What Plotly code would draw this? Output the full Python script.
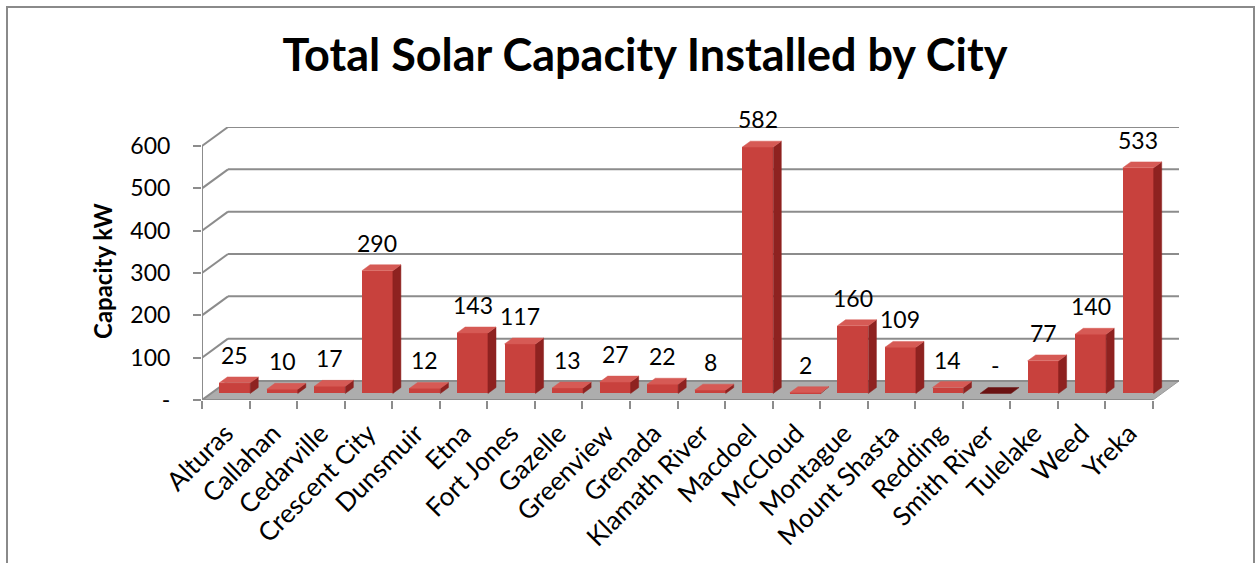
import plotly.graph_objects as go

# Solar capacity (kW) installed in each city
cities = ["Alturas", "Callahan", "Cedarville", "Crescent City", "Dunsmuir", "Etna",
          "Fort Jones", "Gazelle", "Greenview", "Grenada", "Klamath River", "Macdoel",
          "McCloud", "Montague", "Mount Shasta", "Redding", "Smith River", "Tulelake",
          "Weed", "Yreka"]
capacity_kw = [25, 10, 17, 290, 12, 143, 117, 13, 27, 22, 8, 582, 2, 160, 109, 14, 0, 77, 140, 533]
y_ticks = [0, 100, 200, 300, 400, 500, 600]
y_tick_text = ["-", "100", "200", "300", "400", "500", "600"]

TITLE = "Total Solar Capacity Installed by City"
Y_TITLE = "Capacity kW"

FONT = "Lato"
W, H = 1255, 563

# Oblique projection: full chart depth expressed in axis units
DEPTH_X = 0.547   # category units
DEPTH_Y = 44.9    # value units
GAP = 0.175       # gap on each side of a bar (category units)
D0, D1 = 0.345, 0.655  # bar front/back positions as fraction of depth

N = len(cities)
Y_MAX = y_ticks[-1]
X_RANGE = [0, N + DEPTH_X]
Y_RANGE = [0, Y_MAX + DEPTH_Y]

# plot area placement (pixels)
PLOT_L, PLOT_R, PLOT_T, PLOT_B = 202, 1179, 127, 400

FRONT = "#C8413D"
SIDE = "#8E2220"
TOP = "#D65A55"
TOP_FLAT = "#6A1212"
GRID = "#8C8C8C"
FLOOR = "#ADADAD"


def paper_x(px):
    return (px - PLOT_L) / (PLOT_R - PLOT_L)


def paper_y(py):
    return (PLOT_B - py) / (PLOT_B - PLOT_T)


fig = go.Figure()
shapes = []

# floor
shapes.append(dict(type="path", xref="x", yref="y", layer="below",
                   path=f"M 0 0 L {N} 0 L {N + DEPTH_X} {DEPTH_Y} L {DEPTH_X} {DEPTH_Y} Z",
                   fillcolor=FLOOR, line=dict(color="#9A9A9A", width=1)))

# side-wall and back-wall gridlines
for v in y_ticks:
    shapes.append(dict(type="line", xref="x", yref="y", layer="below",
                       x0=0, y0=v, x1=DEPTH_X, y1=v + DEPTH_Y,
                       line=dict(color=GRID, width=2)))
    shapes.append(dict(type="line", xref="x", yref="y", layer="below",
                       x0=DEPTH_X, y0=v + DEPTH_Y, x1=N + DEPTH_X, y1=v + DEPTH_Y,
                       line=dict(color=GRID, width=2)))

# front axis lines
shapes.append(dict(type="line", xref="x", yref="y", x0=0, y0=0, x1=0, y1=Y_MAX,
                   line=dict(color=GRID, width=2)))
shapes.append(dict(type="line", xref="x", yref="y", x0=0, y0=0, x1=N, y1=0,
                   line=dict(color=GRID, width=2)))

# chart frame
shapes.append(dict(type="rect", xref="paper", yref="paper",
                   x0=paper_x(7), x1=paper_x(1254), y0=paper_y(575), y1=paper_y(7),
                   line=dict(color="#8A8A8A", width=2), fillcolor="rgba(0,0,0,0)"))

# bar front faces
dx0, dy0 = D0 * DEPTH_X, D0 * DEPTH_Y
dd_x, dd_y = (D1 - D0) * DEPTH_X, (D1 - D0) * DEPTH_Y
centers = [i + 0.5 + dx0 for i in range(N)]
bar_w = 1 - 2 * GAP
fig.add_trace(go.Bar(x=centers, y=capacity_kw, base=[dy0] * N, width=bar_w,
                     marker=dict(color=FRONT, line=dict(width=0)),
                     hoverinfo="skip", showlegend=False))

# bar side and top faces
for c, v in zip(centers, capacity_kw):
    xl, xr = c - bar_w / 2, c + bar_w / 2
    b, t = dy0, dy0 + v
    if v > 0:
        fig.add_trace(go.Scatter(
            x=[xr, xr + dd_x, xr + dd_x, xr, xr],
            y=[b, b + dd_y, t + dd_y, t, b],
            fill="toself", fillcolor=SIDE, mode="lines",
            line=dict(color=SIDE, width=0.5), hoverinfo="skip", showlegend=False))
    fig.add_trace(go.Scatter(
        x=[xl, xr, xr + dd_x, xl + dd_x, xl],
        y=[t, t, t + dd_y, t + dd_y, t],
        fill="toself", fillcolor=TOP if v > 0 else TOP_FLAT, mode="lines",
        line=dict(color=TOP if v > 0 else TOP_FLAT, width=0.5),
        hoverinfo="skip", showlegend=False))

# value labels
annotations = []
for c, v in zip(centers, capacity_kw):
    annotations.append(dict(x=c, y=v + dy0, xref="x", yref="y", text=f"{v:,}" if v else "-",
                            showarrow=False, yanchor="middle", yshift=28,
                            font=dict(family=FONT, size=23, color="#000000")))

annotations.append(dict(x=paper_x(102), y=paper_y(271), xref="paper", yref="paper",
                        xanchor="center", yanchor="middle",
                        text=f"<b>{Y_TITLE}</b>", textangle=-90, showarrow=False,
                        font=dict(family=FONT, size=24, color="#000000")))

fig.update_layout(
    width=W, height=H,
    margin=dict(l=PLOT_L, r=W - PLOT_R, t=PLOT_T, b=H - PLOT_B),
    paper_bgcolor="white", plot_bgcolor="rgba(0,0,0,0)",
    title=dict(text=f"<b>{TITLE}</b>", x=645 / W, xanchor="center",
               y=1 - 55 / H, yanchor="middle", yref="container",
               font=dict(family=FONT, size=45, color="#000000")),
    shapes=shapes, annotations=annotations,
    bargap=0,
    xaxis=dict(range=X_RANGE, showgrid=False, zeroline=False, showline=False,
               tickmode="array", tickvals=[i + 0.5 for i in range(N)], ticktext=cities,
               tickangle=-45, ticks="", ticklabelstandoff=12,
               tickfont=dict(family=FONT, size=26, color="#000000"),
               minor=dict(tickmode="array", tickvals=list(range(N + 1)), ticks="outside",
                          ticklen=8, tickwidth=2, tickcolor=GRID, showgrid=False),
               fixedrange=True),
    yaxis=dict(range=Y_RANGE, showgrid=False, zeroline=False, showline=False,
               tickmode="array", tickvals=y_ticks, ticktext=y_tick_text,
               ticks="outside", ticklen=8, tickwidth=2, tickcolor=GRID,
               ticklabelstandoff=18,
               tickfont=dict(family=FONT, size=23, color="#000000"), fixedrange=True),
)

fig.write_html("out.html")
